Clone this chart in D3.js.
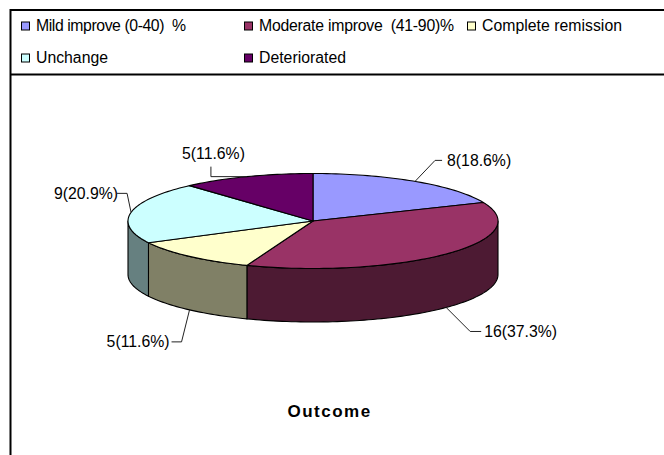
<!DOCTYPE html>
<html><head><meta charset="utf-8">
<script src="https://cdn.jsdelivr.net/npm/d3@7"></script>
<style>html,body{margin:0;padding:0;background:#fff}svg{display:block}text{font-family:"Liberation Sans",Arial,sans-serif;fill:#000}</style>
</head><body><svg id="c" width="664" height="455"></svg>
<script>
const categories = ["Mild improve (0-40)\u00a0 %","Moderate improve\u00a0 (41-90)%","Complete remission","Unchange","Deteriorated"];
const values = [8,16,5,9,5];
const percents = ["18.6","37.3","11.6","20.9","11.6"];
const colors = ["#9999ff","#993366","#ffffcc","#ccffff","#660066"];
const sideColors = ["#4d4d80","#4d1a33","#808066","#668080","#330033"];
const legendCols = [21,244,467,21,244];
const legendRows = [0,0,0,1,1];
const legendWidths = [150,195,140,72,87];
// label placement relative to each slice's mid-angle anchor: elbow, line end, text offset
const labelLayout = [
 {elbow:[20,-21],end:[27,-21],tx:32,ty:-21,anchor:"start"},
 {elbow:[24,24],end:[35,24],tx:38,ty:24,anchor:"start"},
 {elbow:[-8,32],end:[-18,32],tx:-20,ty:32,anchor:"end"},
 {elbow:[-4,-19],end:[-14,-19],tx:-13,ty:-19,anchor:"end"},
 {elbow:[-36,0],end:[-36,-10],tx:-2,ty:-23,anchor:"end"}
];
const cx=313, cy=221, rx=185, ry=47.5, depth=53.5;

const svg=d3.select("#c");
svg.append("rect").attr("width",664).attr("height",455).attr("fill","#fff");
const frame=[[[664,10],[10.5,10],[10.5,455]],[[10.5,74.5],[664,74.5]]];
const line=d3.line();
frame.forEach(f=>svg.append("path").attr("d",line(f)).attr("fill","none").attr("stroke","#000").attr("stroke-width",2));

const rowY=d3.scaleOrdinal([0,1],[26,58]);
const leg=svg.append("g").selectAll("g").data(categories).join("g")
 .attr("transform",(d,i)=>`translate(${legendCols[i]},${rowY(legendRows[i])})`);
leg.append("rect").attr("x",.5).attr("y",-4).attr("width",8).attr("height",8)
 .attr("fill",(d,i)=>colors[i]).attr("stroke","#000").attr("stroke-width",1);
leg.append("text").attr("x",15).attr("y",5).attr("font-size",15.8)
 .attr("textLength",(d,i)=>legendWidths[i]).attr("lengthAdjust","spacing").text(d=>d);

const pie=d3.pie().sort(null).startAngle(0).endAngle(2*Math.PI);
const arcs=pie(values);
const X=a=>cx+rx*Math.sin(a), Y=a=>cy-ry*Math.cos(a);
const samples=(a0,a1)=>{const n=Math.max(2,Math.ceil((a1-a0)*40));return d3.range(n+1).map(i=>{const a=a0+(a1-a0)*i/n;return [X(a),Y(a)];});};

const g=svg.append("g").attr("stroke","#000").attr("stroke-width",1.1).attr("stroke-linejoin","round");
arcs.forEach((d,i)=>{
  const a0=Math.max(d.startAngle,Math.PI/2), a1=Math.min(d.endAngle,1.5*Math.PI);
  if(a1<=a0) return;
  const t=samples(a0,a1), b=t.map(p=>[p[0],p[1]+depth]).reverse();
  g.append("path").attr("d",line(t.concat(b))+"Z").attr("fill",sideColors[i]);
});
arcs.forEach((d,i)=>{
  g.append("path").attr("d",line([[cx,cy]].concat(samples(d.startAngle,d.endAngle)))+"Z").attr("fill",colors[i]);
});

const lab=svg.append("g");
arcs.forEach((d,i)=>{
  const m=(d.startAngle+d.endAngle)/2, L=labelLayout[i];
  const front=m>Math.PI/2&&m<1.5*Math.PI;
  const ax=X(m), ay=Y(m)+(front?depth:0);
  const p=[[ax,ay],[ax+L.elbow[0],ay+L.elbow[1]],[ax+L.end[0],ay+L.end[1]]];
  lab.append("path").attr("d",line(p)).attr("fill","none").attr("stroke","#222").attr("stroke-width",1);
  lab.append("text").attr("x",ax+L.tx).attr("y",ay+L.ty+5.5).attr("font-size",15.8).attr("text-anchor",L.anchor)
    .text(`${values[i]}(${percents[i]}%)`);
});
svg.append("text").attr("x",329.5).attr("y",417).attr("text-anchor","middle").attr("font-size",17).attr("font-weight","bold").attr("letter-spacing",1.5).text("Outcome");
</script></body></html>
